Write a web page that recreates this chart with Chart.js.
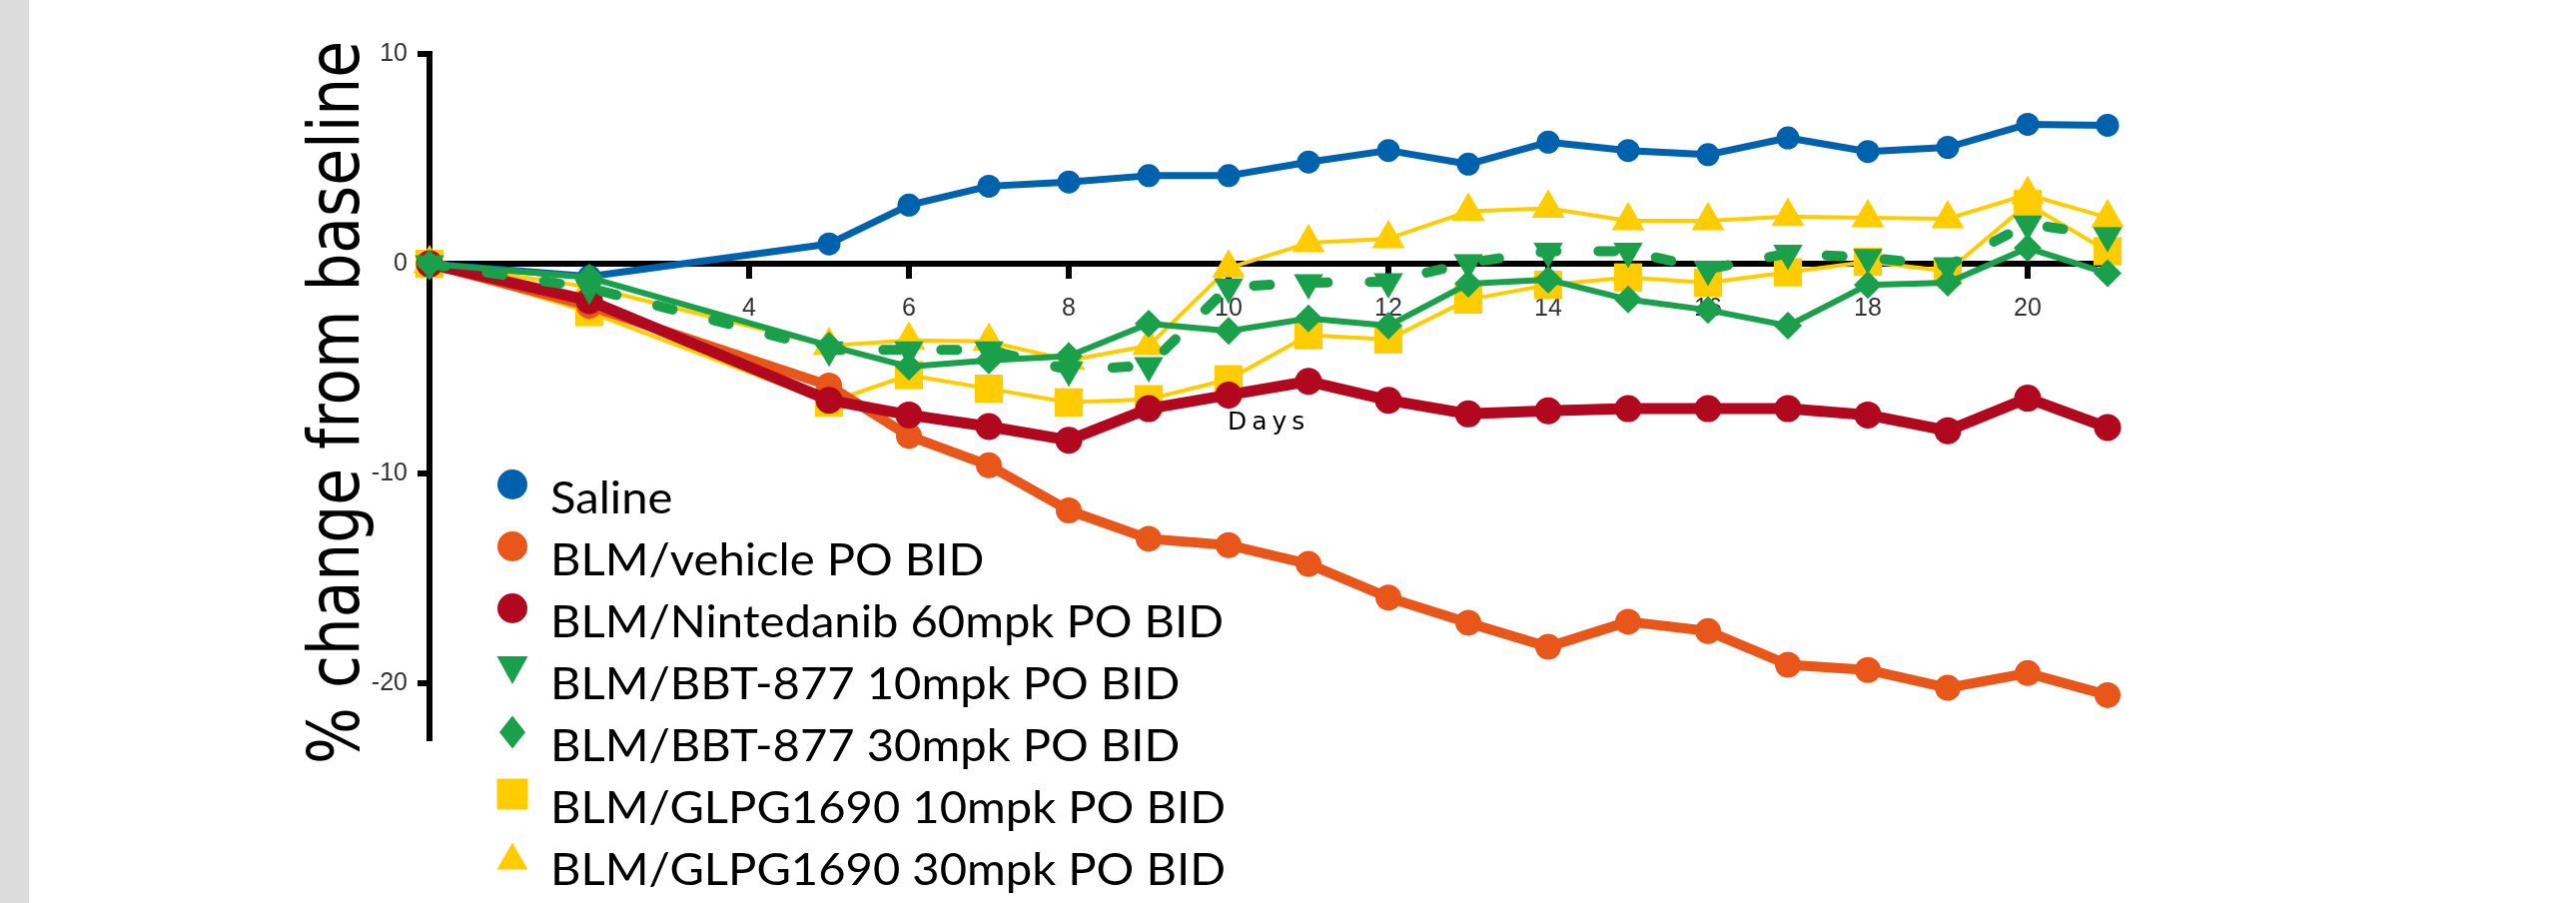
<!DOCTYPE html>
<html><head><meta charset="utf-8">
<script src="https://cdn.jsdelivr.net/npm/chart.js@4.4.1/dist/chart.umd.min.js"></script>
<style>
html,body{margin:0;padding:0;background:#fff;}
#wrap{position:relative;width:2579px;height:904px;overflow:hidden;}
#strip{position:absolute;left:0;top:0;width:29px;height:904px;background:#dcdcdc;}
canvas{position:absolute;left:0;top:0;}
</style></head><body>
<div id="wrap"><canvas id="c" width="2579" height="904"></canvas><div id="strip"></div></div>
<script>
// ---- data ----
const days = [0,2,5,6,7,8,9,10,11,12,13,14,15,16,17,18,19,20,21];
const saline     = [0,-0.6,0.95,2.8,3.7,3.9,4.2,4.2,4.85,5.4,4.75,5.8,5.4,5.2,6.0,5.35,5.55,6.65,6.6];
const vehicle    = [0,-2.0,-5.8,-8.2,-9.6,-11.75,-13.1,-13.4,-14.3,-15.9,-17.1,-18.25,-17.05,-17.5,-19.1,-19.35,-20.2,-19.5,-20.55];
const nintedanib = [0,-1.75,-6.5,-7.2,-7.75,-8.4,-6.9,-6.25,-5.6,-6.5,-7.15,-7.0,-6.9,-6.9,-6.9,-7.2,-7.95,-6.4,-7.8];
const bbt10      = [0,-1.15,-4.1,-4.1,-4.1,-5.05,-4.85,-1.1,-0.9,-0.85,0.05,0.6,0.6,-0.25,0.5,0.3,-0.1,1.9,1.35];
const bbt30      = [0,-0.65,-3.9,-4.9,-4.6,-4.4,-2.85,-3.2,-2.6,-2.95,-0.95,-0.75,-1.7,-2.2,-2.95,-1.0,-0.9,0.75,-0.45];
const glpg10     = [0,-2.3,-6.6,-5.3,-5.95,-6.6,-6.45,-5.5,-3.4,-3.6,-1.7,-1.0,-0.65,-0.9,-0.4,0.1,-0.35,2.85,0.6];
const glpg30     = [0,-1.1,-3.9,-3.65,-3.7,-4.6,-3.9,-0.2,1.0,1.2,2.5,2.65,2.05,2.05,2.25,2.2,2.15,3.3,2.2];

const seriesLabels = ['Saline','BLM/vehicle PO BID','BLM/Nintedanib 60mpk PO BID','BLM/BBT-877 10mpk PO BID','BLM/BBT-877 30mpk PO BID','BLM/GLPG1690 10mpk PO BID','BLM/GLPG1690 30mpk PO BID'];
const seriesValues = [saline, vehicle, nintedanib, bbt10, bbt30, glpg10, glpg30];
const xTickValues = [4,6,8,10,12,14,16,18,20];
const yTickValues = [10,0,-10,-20];
const yTickLabels = ['10','0','-10','-20'];
const yTitle = '% change from baseline';
const xTitle = 'Days';

// ---- styles ----
const BLUE='#0061ad', ORANGE='#e85619', RED='#b1081f', GREEN='#1aa04a', YELLOW='#ffcc00';
const styles = [
  {color:BLUE,   width:7,  style:'circle',   r:11.5, rot:0,   order:7},
  {color:ORANGE, width:10, style:'circle',   r:13,   rot:0,   order:4},
  {color:RED,    width:11, style:'circle',   r:13.5, rot:0,   order:3},
  {color:GREEN,  width:10, style:'triangle', r:17,   rot:180, order:2, dash:[16,42], cap:'round'},
  {color:GREEN,  width:6,  style:'rectRot',  r:14,   rot:0,   order:1},
  {color:YELLOW, width:4,  style:'rect',     r:20,   rot:0,   order:5},
  {color:YELLOW, width:4,  style:'triangle', r:19,   rot:0,   order:6}
];

const datasets = seriesValues.map((vals,i)=>{
  const s = styles[i];
  return {
    label: seriesLabels[i],
    data: days.map((d,j)=>({x:d, y:vals[j]})),
    borderColor: s.color, backgroundColor: s.color,
    borderWidth: s.width, borderDash: s.dash || [], borderCapStyle: s.cap || 'butt',
    borderJoinStyle: 'round',
    pointStyle: s.style, pointRadius: s.r, pointRotation: s.rot,
    pointBackgroundColor: s.color, pointBorderColor: s.color, pointBorderWidth: 0,
    tension: 0, clip: false, order: s.order
  };
});

// ---- custom text / legend plugin ----
function legendMarker(ctx, kind, x, y, color){
  ctx.fillStyle = color;
  ctx.beginPath();
  if (kind==='circle'){ ctx.arc(x,y,15,0,Math.PI*2); }
  else if (kind==='tdown'){ ctx.moveTo(x-15.5,y-14); ctx.lineTo(x+15.5,y-14); ctx.lineTo(x,y+14); ctx.closePath(); }
  else if (kind==='tup'){ ctx.moveTo(x-15.5,y+13.5); ctx.lineTo(x+15.5,y+13.5); ctx.lineTo(x,y-13.5); ctx.closePath(); }
  else if (kind==='diamond'){ ctx.moveTo(x,y-16.5); ctx.lineTo(x+13,y); ctx.lineTo(x,y+16.5); ctx.lineTo(x-13,y); ctx.closePath(); }
  else if (kind==='square'){ ctx.rect(x-15.5,y-15.5,31,31); }
  ctx.fill();
}
const legendKinds = ['circle','circle','circle','tdown','diamond','square','tup'];

const textPlugin = {
  id:'texts',
  afterDraw(chart){
    const ctx = chart.ctx;
    ctx.save();
    // y title
    ctx.font = '72px "DejaVu Sans"';
    const tw = ctx.measureText(yTitle).width;
    ctx.translate(359, 403);
    ctx.rotate(-Math.PI/2);
    ctx.scale(724/tw, 1);
    ctx.textAlign='center'; ctx.textBaseline='alphabetic'; ctx.fillStyle='#000';
    ctx.fillText(yTitle, 0, 0);
    ctx.restore();

    // x title
    ctx.save();
    ctx.font = '25px "DejaVu Sans"';
    ctx.letterSpacing = '5px';
    ctx.fillStyle = '#000'; ctx.textAlign='left'; ctx.textBaseline='alphabetic';
    ctx.fillText(xTitle, 1229, 430);
    ctx.restore();

    // legend
    ctx.save();
    ctx.font = '45px Lato';
    const longest = seriesLabels.reduce((a,b)=> ctx.measureText(b).width>ctx.measureText(a).width?b:a);
    const sx = 676 / ctx.measureText(longest).width;
    seriesLabels.forEach((lab,i)=>{
      const yb = 514 + i*62;
      legendMarker(ctx, legendKinds[i], 513, yb-29, styles[i].color);
      ctx.save();
      ctx.translate(551, yb);
      ctx.scale(sx,1);
      ctx.fillStyle='#000'; ctx.textAlign='left'; ctx.textBaseline='alphabetic';
      ctx.fillText(lab, 0, 0);
      ctx.restore();
    });
    ctx.restore();
  }
};

const tickFont = {family:'"Liberation Sans"', size:25};

new Chart(document.getElementById('c'), {
  type:'line',
  data:{datasets},
  options:{
    responsive:false, animation:false, events:[], devicePixelRatio:1,
    layout:{padding:{left:0, top:54, right:469, bottom:165}},
    plugins:{legend:{display:false}, tooltip:{enabled:false}},
    scales:{
      x:{
        type:'linear', min:0, max:21, position:{y:0},
        afterBuildTicks: s => { s.ticks = xTickValues.map(v=>({value:v})); },
        afterFit: s => { s.height = 0; },
        border:{display:true, color:'#000', width:6},
        grid:{display:true, drawOnChartArea:false, drawTicks:true, tickLength:12, lineWidth:6, color:'#000'},
        ticks:{padding:18, color:'#333', font:tickFont, autoSkip:false, maxRotation:0, minRotation:0}
      },
      y:{
        type:'linear', min:-22.6, max:10, position:'left',
        afterBuildTicks: s => { s.ticks = yTickValues.map(v=>({value:v})); },
        afterFit: s => { s.width = 430; },
        border:{display:true, color:'#000', width:6},
        grid:{display:true, drawOnChartArea:false, drawTicks:true, tickLength:12, lineWidth:6, color:'#000',
              tickColor: c => (c.tick && c.tick.value===0) ? 'rgba(0,0,0,0)' : '#000'},
        ticks:{padding:10, color:'#333', font:tickFont,
               callback: v => yTickLabels[yTickValues.indexOf(v)]}
      }
    }
  },
  plugins:[textPlugin]
});
</script>
</body></html>
